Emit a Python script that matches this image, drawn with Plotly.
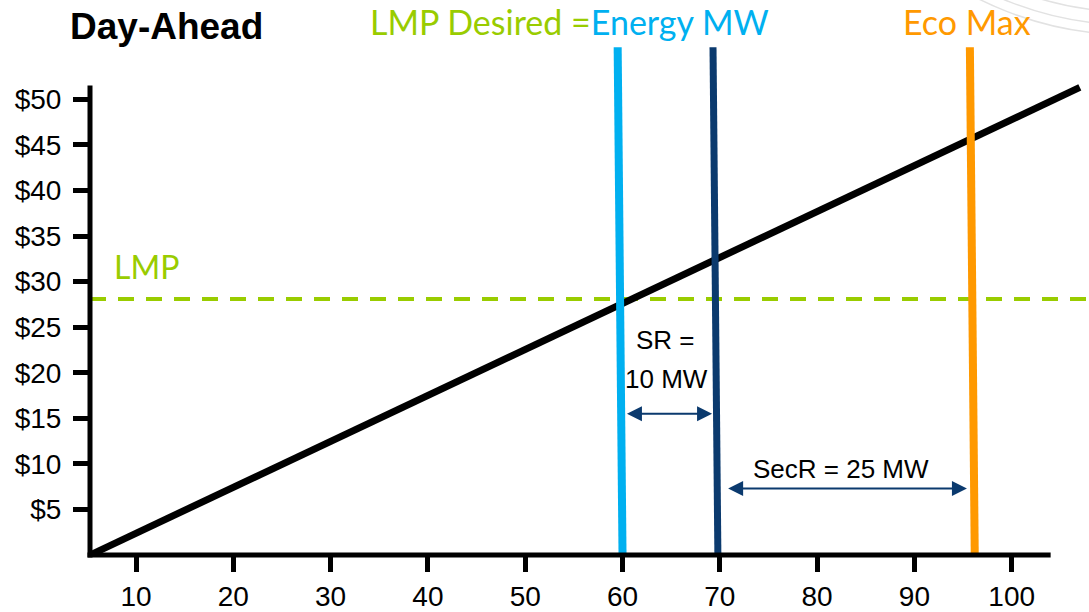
import plotly.graph_objects as go

# ---- data -------------------------------------------------------------
tick_mw = [10, 20, 30, 40, 50, 60, 70, 80, 90, 100]
tick_price = [5, 10, 15, 20, 25, 30, 35, 40, 45, 50]
tick_price_text = ["$" + str(v) for v in tick_price]

# offer curve (MW, $/MWh)
offer_mw = [5.27, 107.0]
offer_price = [0.0, 51.3]

lmp_price = 28.1

# near-vertical markers: MW at top and at the axis
energy_mw = [59.5, 60.0]
sr_limit_mw = [69.3, 69.8]
eco_max_mw = [95.7, 96.2]
marker_price = [55.7, 0.0]

# reserve spans
sr_span_mw = [60.3, 69.2]
sr_span_price = 15.5
secr_span_mw = [70.7, 95.4]
secr_span_price = 7.3

# extent of the drawn axis lines
axis_end_mw = 104.0
axis_end_price = 51.5

# ---- colours ----------------------------------------------------------
GREEN = "#99CC00"
LIGHT_BLUE = "#00B0F0"
NAVY = "#0B3A6E"
ORANGE = "#FF9900"

# ---- geometry ---------------------------------------------------------
W, H = 1089, 612
ML, MR, MT, MB = 90, 0, 0, 53
PLOT_W, PLOT_H = W - ML - MR, H - MT - MB
PX_PER_MW, PX_PER_USD = 9.73, 9.18
x_range = [5.27, 5.27 + PLOT_W / PX_PER_MW]
y_range = [0.0, PLOT_H / PX_PER_USD]


def px(xv):
    return (xv - x_range[0]) / (x_range[1] - x_range[0])


def py(yv):
    return (yv - y_range[0]) / (y_range[1] - y_range[0])


def paper_from_pixels(x_pix, y_pix):
    return (x_pix - ML) / PLOT_W, (H - MB - y_pix) / PLOT_H


fig = go.Figure()

# LMP dashed level
fig.add_trace(go.Scatter(
    x=[x_range[0], x_range[1]], y=[lmp_price, lmp_price], mode="lines",
    line=dict(color=GREEN, width=4, dash="16px,12px"), hoverinfo="skip"))

# offer curve
fig.add_trace(go.Scatter(
    x=offer_mw, y=offer_price, mode="lines",
    line=dict(color="black", width=7), hoverinfo="skip"))

# vertical markers
for xs, col, w in [(energy_mw, LIGHT_BLUE, 8), (sr_limit_mw, NAVY, 7), (eco_max_mw, ORANGE, 8)]:
    fig.add_trace(go.Scatter(
        x=xs, y=marker_price, mode="lines",
        line=dict(color=col, width=w), hoverinfo="skip"))

shapes = [
    # x axis line
    dict(type="line", xref="paper", yref="paper",
         x0=-2.5 / PLOT_W, x1=px(axis_end_mw), y0=0, y1=0,
         line=dict(color="black", width=5)),
    # y axis line
    dict(type="line", xref="paper", yref="paper",
         x0=0, x1=0, y0=-2.5 / PLOT_H, y1=py(axis_end_price),
         line=dict(color="black", width=5)),
]

# faint decorative arcs in the top-right corner of the slide
for r in [335, 325, 312]:
    cx, cy = 1130, -300
    x0p, y0p = paper_from_pixels(cx - r, cy + r)
    x1p, y1p = paper_from_pixels(cx + r, cy - r)
    shapes.append(dict(type="circle", xref="paper", yref="paper",
                       x0=x0p, x1=x1p, y0=y0p, y1=y1p, layer="below",
                       line=dict(color="#E2E2E2", width=1.5)))

annotations = []

# double-headed span arrows
for span, yv in [(sr_span_mw, sr_span_price), (secr_span_mw, secr_span_price)]:
    annotations.append(dict(
        x=span[1], y=yv, ax=span[0], ay=yv, xref="x", yref="y", axref="x", ayref="y",
        text="", showarrow=True, arrowside="end+start",
        arrowhead=2, startarrowhead=2, arrowsize=1.5, startarrowsize=1.5,
        arrowwidth=2, arrowcolor=NAVY, standoff=0, startstandoff=0))

ARIAL = "Arial, Liberation Sans, sans-serif"
TICK_FONT = dict(family=ARIAL, color="black", size=28)
LABEL_FONT = dict(family=ARIAL, color="black", size=26)
CAL_FONT = "Lato, Calibri, sans-serif"

lmp_x, lmp_y = paper_from_pixels(112, 268)
title_x, title_y = paper_from_pixels(68, 27)
hdr_x, hdr_y = paper_from_pixels(368, 22)
eco_x, eco_y = paper_from_pixels(967, 22)

annotations += [
    dict(x=64.4, y=23.6, xref="x", yref="y", text="SR =", showarrow=False, font=LABEL_FONT),
    dict(x=64.5, y=19.3, xref="x", yref="y", text="10 MW", showarrow=False, font=LABEL_FONT),
    dict(x=82.5, y=9.4, xref="x", yref="y", text="SecR = 25 MW", showarrow=False, font=LABEL_FONT),
    dict(x=lmp_x, y=lmp_y, xref="paper", yref="paper", xanchor="left", yanchor="middle",
         text="LMP", showarrow=False, font=dict(family=CAL_FONT, size=32, color=GREEN)),
    dict(x=title_x, y=title_y, xref="paper", yref="paper", xanchor="left", yanchor="middle",
         text="<b>Day-Ahead</b>", showarrow=False,
         font=dict(family=ARIAL, size=37, color="black")),
    dict(x=hdr_x, y=hdr_y, xref="paper", yref="paper", xanchor="left", yanchor="middle",
         text=f"<span style='color:{GREEN}'>LMP Desired =</span><span style='color:{LIGHT_BLUE}'>Energy MW</span>",
         showarrow=False, font=dict(family=CAL_FONT, size=34)),
    dict(x=eco_x, y=eco_y, xref="paper", yref="paper", xanchor="center", yanchor="middle",
         text="Eco Max", showarrow=False, font=dict(family=CAL_FONT, size=34, color=ORANGE)),
]

fig.update_layout(
    width=W, height=H, autosize=False,
    margin=dict(l=ML, r=MR, t=MT, b=MB, pad=0),
    paper_bgcolor="white", plot_bgcolor="rgba(0,0,0,0)",
    showlegend=False,
    shapes=shapes, annotations=annotations,
    xaxis=dict(range=x_range, showgrid=False, zeroline=False, showline=False,
               tickmode="array", tickvals=tick_mw, ticks="outside",
               ticklen=16, tickwidth=5, tickcolor="black",
               tickfont=TICK_FONT, fixedrange=True),
    yaxis=dict(range=y_range, showgrid=False, zeroline=False, showline=False,
               tickmode="array", tickvals=tick_price, ticktext=tick_price_text,
               ticks="outside", ticklen=16, tickwidth=5, tickcolor="black",
               tickfont=TICK_FONT, ticklabelstandoff=6, fixedrange=True),
)

fig.write_html("out.html")
